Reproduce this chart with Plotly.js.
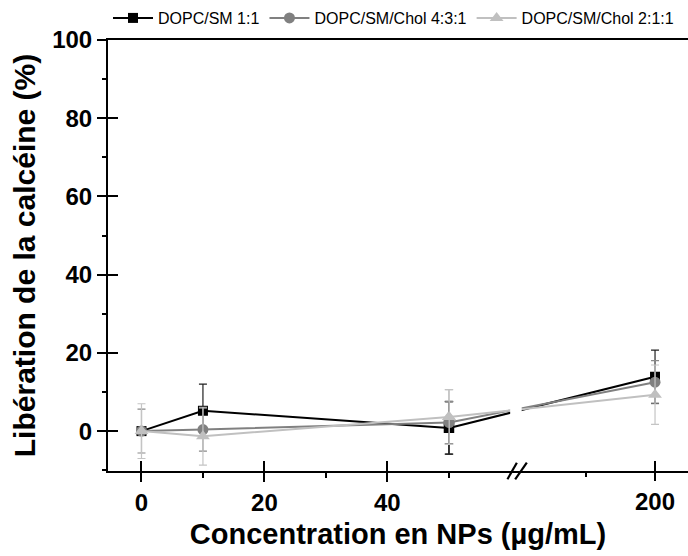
<!DOCTYPE html>
<html>
<head>
<meta charset="utf-8">
<script src="https://cdn.plot.ly/plotly-3.0.1.min.js"></script>
<style>html,body{margin:0;padding:0;background:#fff;}#chart{width:688px;height:556px;}</style>
</head>
<body>
<div id="chart"></div>
<script>
// ---- data ----
const conc = [0, 10, 50, 200];                 // µg/mL
const seriesNames = ['DOPC/SM 1:1', 'DOPC/SM/Chol 4:3:1', 'DOPC/SM/Chol 2:1:1'];
const sm11      = [0.0, 5.2, 0.8, 13.9];
const sm11Err   = [0.5, 6.8, 6.7, 6.8];
const chol431   = [0.0, 0.4, 2.2, 12.5];
const chol431Err= [5.6, 5.5, 5.4, 5.5];
const chol211   = [0.0, -1.3, 3.6, 9.3];
const chol211Err= [7.0, 7.4, 7.0, 7.6];
const xTicksLow  = [0, 20, 40];
const xMinorLow  = [10, 30, 50];
const xTicksHigh = [200];
const xMinorHigh = [150];
const yTicks = [0, 20, 40, 60, 80, 100];

const values = [sm11, chol431, chol211];
const errors = [sm11Err, chol431Err, chol211Err];
const colors = ['#000000', '#808080', '#c0c0c0'];
const errColors = ['#222222', '#8a8a8a', '#c4c4c4'];
const symbols = ['square', 'circle', 'triangle-up'];
const sizes = [10, 11, 12];

const FONT = 'Liberation Sans, Arial, sans-serif';
const nLow = 3; // points left of the break (0, 10, 50)

const traces = [];
for (let i = 0; i < 3; i++) {
  traces.push({
    type: 'scatter', mode: 'lines+markers',
    line: {color: colors[i], width: 2},
    marker: {color: colors[i], symbol: symbols[i], size: sizes[i]},
    name: seriesNames[i], xaxis: 'x', yaxis: 'y',
    x: conc.slice(0, nLow), y: values[i].slice(0, nLow),
    error_y: {type: 'data', array: errors[i].slice(0, nLow), visible: true,
              color: errColors[i], thickness: 1.2, width: 4},
    showlegend: true
  });
}
for (let i = 0; i < 3; i++) {
  traces.push({
    type: 'scatter', mode: 'lines+markers', xaxis: 'x2', yaxis: 'y',
    x: conc.slice(nLow - 1), y: values[i].slice(nLow - 1),
    line: {color: colors[i], width: 2},
    marker: {color: colors[i], symbol: symbols[i], size: sizes[i]},
    error_y: {type: 'data', array: errors[i].slice(nLow - 1), visible: true,
              color: errColors[i], thickness: 1.2, width: 4},
    showlegend: false, name: seriesNames[i]
  });
}

const tickFont = {family: FONT, size: 24, color: '#000', weight: 'bold'};
const baseX = {
  showgrid: false, zeroline: false, ticks: 'outside', ticklen: 9, tickwidth: 2,
  tickcolor: '#000', tickfont: tickFont, fixedrange: true
};
const layout = {
  width: 688, height: 556,
  margin: {l: 108, r: 0, t: 40, b: 85},
  paper_bgcolor: '#fff', plot_bgcolor: '#fff',
  font: {family: FONT, color: '#000'},
  showlegend: true,
  legend: {orientation: 'h', x: 0.0, xanchor: 'left', y: 1.051, yanchor: 'middle',
           font: {family: FONT, size: 16, color: '#000'}, bgcolor: 'rgba(0,0,0,0)',
           traceorder: 'normal', itemwidth: 40},
  xaxis: Object.assign({}, baseX, {
    range: [-5.45, 88.94], tickmode: 'array', tickvals: xTicksLow,
    showline: true, linecolor: '#000', linewidth: 2, mirror: true,
    minor: {tickmode: 'array', tickvals: xMinorLow, ticks: 'outside', ticklen: 5, tickwidth: 2, tickcolor: '#000'},
    title: {text: 'Concentration en NPs (µg/mL)', font: {family: FONT, size: 29, color: '#000', weight: 'bold'}, standoff: 9}
  }),
  xaxis2: Object.assign({}, baseX, {
    overlaying: 'x', side: 'bottom', range: [-198.7, 224.03], tickmode: 'array', tickvals: xTicksHigh,
    showline: false, anchor: 'y',
    minor: {tickmode: 'array', tickvals: xMinorHigh, ticks: 'outside', ticklen: 5, tickwidth: 2, tickcolor: '#000'}
  }),
  xaxis3: {overlaying: 'x', side: 'bottom', anchor: 'y', range: [-5.45, 88.94], tickmode: 'array', tickvals: xTicksLow,
    ticks: 'inside', ticklen: 10, tickwidth: 2, tickcolor: '#000', showticklabels: false, showgrid: false, zeroline: false, showline: false},
  xaxis4: {overlaying: 'x', side: 'bottom', anchor: 'y', range: [-198.7, 224.03], tickmode: 'array', tickvals: xTicksHigh,
    ticks: 'inside', ticklen: 10, tickwidth: 2, tickcolor: '#000', showticklabels: false, showgrid: false, zeroline: false, showline: false},
  yaxis: {
    range: [-10.2, 100], tickmode: 'array', tickvals: yTicks, showgrid: false, zeroline: false,
    ticks: 'outside', ticklen: 9, tickwidth: 2, tickcolor: '#000', tickfont: tickFont,
    showline: true, linecolor: '#000', linewidth: 2, fixedrange: true,
    minor: {dtick: 10, tick0: 0, ticks: 'outside', ticklen: 4, tickwidth: 2, tickcolor: '#000'},
    title: {text: 'Libération de la calcéine (%)', font: {family: FONT, size: 30, color: '#000', weight: 'bold'}, standoff: 8}
  },
  yaxis2: {overlaying: 'y', side: 'left', anchor: 'x', range: [-10.2, 100], tickmode: 'array', tickvals: yTicks,
    ticks: 'inside', ticklen: 10, tickwidth: 2, tickcolor: '#000', showticklabels: false, showgrid: false, zeroline: false, showline: false},
  shapes: [
    {type: 'rect', xref: 'paper', yref: 'paper', x0: 0.6934, x1: 0.7132, y0: 0.01, y1: 0.99,
     fillcolor: '#fff', line: {width: 0}, layer: 'above'},
    {type: 'line', xref: 'paper', yref: 'paper', x0: 0.6887, y0: -0.0193, x1: 0.7049, y1: 0.0193,
     line: {color: '#000', width: 2.2}, layer: 'above'},
    {type: 'line', xref: 'paper', yref: 'paper', x0: 0.7020, y0: -0.0193, x1: 0.7221, y1: 0.0193,
     line: {color: '#000', width: 2.2}, layer: 'above'}
  ]
};

traces.push({type: 'scatter', mode: 'markers', x: [], y: [], xaxis: 'x3', yaxis: 'y', showlegend: false, hoverinfo: 'skip'});
traces.push({type: 'scatter', mode: 'markers', x: [], y: [], xaxis: 'x4', yaxis: 'y', showlegend: false, hoverinfo: 'skip'});
traces.push({type: 'scatter', mode: 'markers', x: [], y: [], xaxis: 'x', yaxis: 'y2', showlegend: false, hoverinfo: 'skip'});

Plotly.newPlot('chart', traces, layout, {displayModeBar: false, staticPlot: true});
</script>
</body>
</html>
